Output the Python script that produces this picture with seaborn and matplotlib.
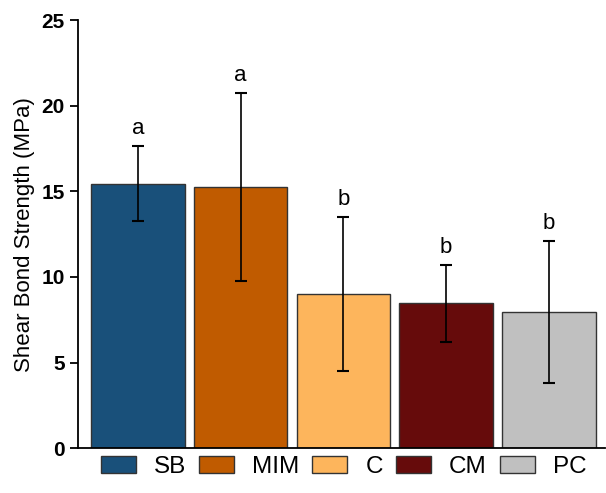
import matplotlib
matplotlib.use("Agg")
import matplotlib.pyplot as plt
import pandas as pd
import seaborn as sns
from matplotlib.patches import Patch

groups = ["SB", "MIM", "C", "CM", "PC"]
means = [15.45, 15.25, 9.0, 8.45, 7.95]
errors = [2.2, 5.5, 4.5, 2.27, 4.15]
letters = ["a", "a", "b", "b", "b"]
colors = ["#19507a", "#c05b00", "#fdb55c", "#660b0b", "#c0c0c0"]

df = pd.DataFrame({"group": groups, "mean": means})

sns.set_style("ticks")
plt.rcParams["font.family"] = ["Liberation Sans", "DejaVu Sans"]
plt.rcParams["text.color"] = "black"
plt.rcParams["axes.labelcolor"] = "black"
plt.rcParams["xtick.color"] = "black"
plt.rcParams["ytick.color"] = "black"
plt.rcParams["axes.edgecolor"] = "black"

fig = plt.figure(figsize=(6.06, 4.93), dpi=100)
ax = fig.add_axes([0.129, 0.091, 0.87, 0.868])

sns.barplot(data=df, x="group", y="mean", hue="group", palette=colors,
            saturation=1, width=0.91, edgecolor="#333333", linewidth=1.0,
            legend=False, ax=ax)

pos = list(range(len(groups)))
ax.errorbar(pos, means, yerr=errors, fmt="none", ecolor="black",
            elinewidth=1.2, capsize=4, capthick=1.5)

for x, m, e, lab in zip(pos, means, errors, letters):
    ax.text(x, m + e + 0.4, lab, ha="center", va="bottom", fontsize=16)

ax.set_ylim(0, 25)
ax.set_xlim(-0.58, 4.55)
ax.set_yticks([0, 5, 10, 15, 20, 25])
ax.tick_params(axis="y", labelsize=15, width=1.3, length=6)
for t in ax.get_yticklabels():
    t.set_fontweight("bold")
ax.set_xticks([])
ax.set_xlabel("")
ax.set_ylabel("Shear Bond Strength (MPa)", fontsize=16, labelpad=5)
sns.despine(ax=ax)
ax.spines["left"].set_linewidth(1.3)
ax.spines["bottom"].set_linewidth(1.3)

handles = [Patch(facecolor=c, edgecolor="#333333", label=g) for g, c in zip(groups, colors)]
fig.legend(handles=handles, loc="center", bbox_to_anchor=(0.567, 0.053),
           ncol=5, frameon=False, fontsize=17.5, handlelength=1.44,
           handleheight=0.74, columnspacing=0.54, handletextpad=0.74,
           borderpad=0, borderaxespad=0)

fig.savefig("out.png", dpi=100)
